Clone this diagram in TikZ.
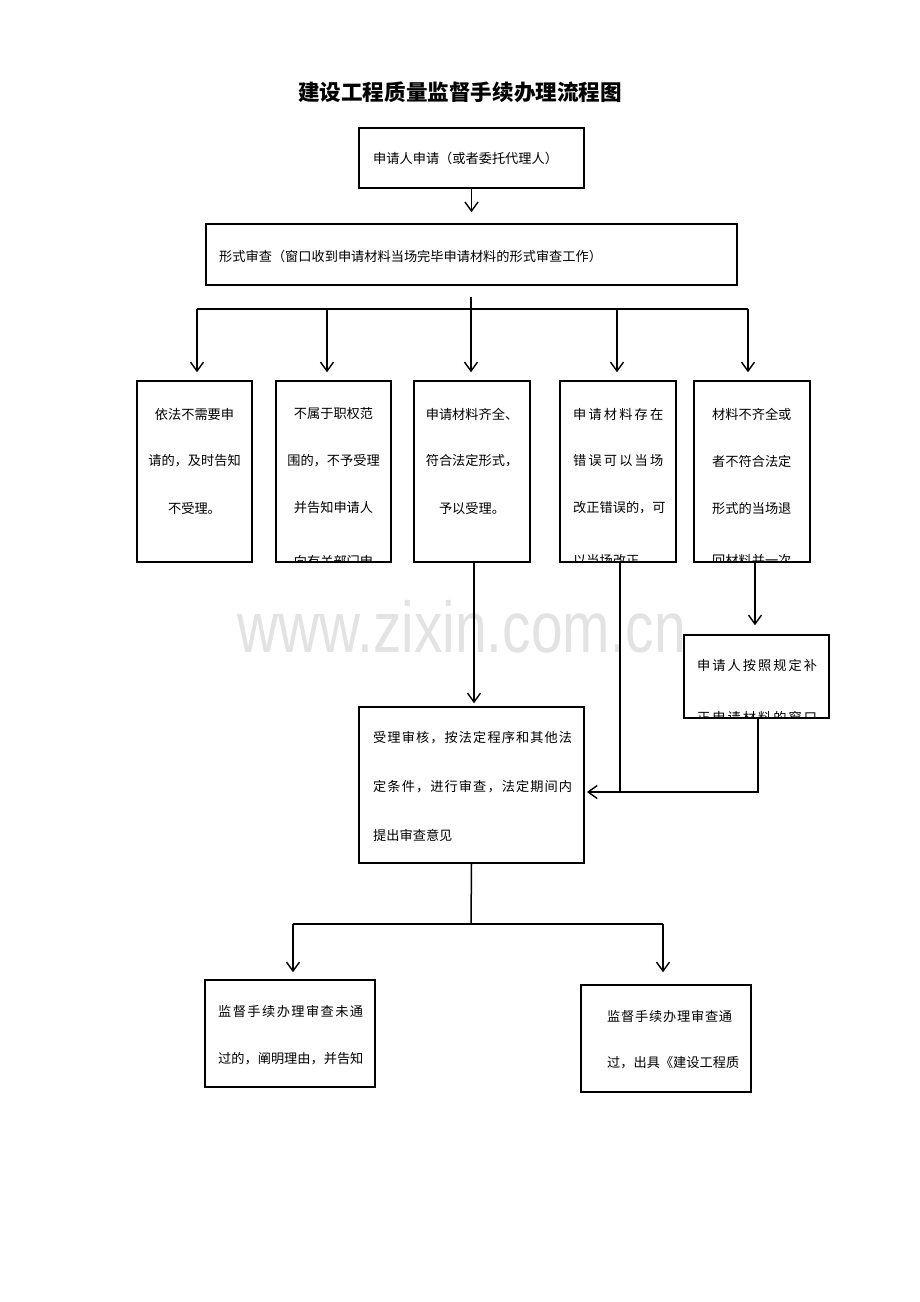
\documentclass[tikz,border=0pt]{standalone}
\usepackage{graphicx}
\usepackage{fontspec}
\setmainfont{Noto Sans CJK SC}
\newfontfamily\wmfont{Liberation Sans}
\usetikzlibrary{arrows.meta}
\makeatletter
\newcommand\spreadto[2]{\hbox to #1{\@tfor\sp@c:=#2\do{\sp@c\hfil}\unskip}}
\makeatother
\newcommand\mkbox[5]{\node[box,minimum width={#4-#2},minimum height={#5-#3}] (#1) at ({(#2+#4)/2},{(#3+#5)/2}) {};}
\newcommand\clipin[1]{\clip ([shift={(1,-1)}]#1.south west) rectangle ([shift={(-1,1)}]#1.north east);}
\begin{document}
\begin{tikzpicture}[x=1pt,y=-1pt,
  box/.style={draw,line width=1.5pt,inner sep=0pt},
  conn/.style={line width=1.5pt},
  arr/.style={conn,-{Straight Barb[length=9pt,width=13pt,line width=1.4pt]}},
  txt/.style={inner sep=0pt,font=\fontsize{13.2pt}{16pt}\selectfont},
]
\useasboundingbox (0,0) rectangle (920,1302);
\fill[white] (0,0) rectangle (920,1302);

% watermark
\node[anchor=base west,inner sep=0pt,text=black!11] (wm) at (237,652)
  {\scalebox{0.79}[1]{\wmfont\fontsize{72pt}{72pt}\selectfont www.zixin.com.cn}};

% title
\node[inner sep=0pt,font=\fontsize{21.6pt}{24pt}\selectfont\bfseries] (title) at (460,92) {建设工程质量监督手续办理流程图};

% boxes
\mkbox{b1}{359}{128}{584}{188}
\mkbox{b2}{206}{224}{737}{285}
\mkbox{ba}{137}{381}{252}{562}
\mkbox{bb}{276}{381}{391}{562}
\mkbox{bc}{414}{381}{530}{562}
\mkbox{bd}{560}{381}{676}{562}
\mkbox{be}{694}{381}{810}{562}
\mkbox{bg}{684}{635}{829}{718}
\mkbox{bf}{359}{707}{584}{863}
\mkbox{bh}{205}{980}{375}{1087}
\mkbox{bi}{581}{985}{751}{1092}

% texts
\node[txt,anchor=west] (t1) at (373,158) {申请人申请（或者委托代理人）};
\node[txt,anchor=west] (t2) at (219,256) {形式审查（窗口收到申请材料当场完毕申请材料的形式审查工作）};

\node[txt] (ta1) at (194.5,414) {依法不需要申};
\node[txt] (ta2) at (194.5,461) {请的，及时告知};
\node[txt] (ta3) at (194.5,508) {不受理。};

\begin{scope}\clipin{bb}
\node[txt] (tb1) at (333.5,414) {不属于职权范};
\node[txt] (tb2) at (333.5,461) {围的，不予受理};
\node[txt] (tb3) at (333.5,508) {并告知申请人};
\node[txt] (tb4) at (333.5,561) {向有关部门申};
\end{scope}

\node[txt] (tc1) at (472,414) {申请材料齐全、};
\node[txt] (tc2) at (472,461) {符合法定形式，};
\node[txt] (tc3) at (472,508) {予以受理。};

\begin{scope}\clipin{bd}
\node[txt,anchor=west] (td1) at (573,414) {\spreadto{90pt}{申请材料存在}};
\node[txt,anchor=west] (td2) at (573,461) {\spreadto{90pt}{错误可以当场}};
\node[txt,anchor=west] (td3) at (573,508) {\spreadto{90pt}{改正错误的，可}};
\node[txt,anchor=west] (td4) at (573,561) {以当场改正};
\end{scope}

\begin{scope}\clipin{be}
\node[txt,anchor=west] (te1) at (712,414) {材料不齐全或};
\node[txt,anchor=west] (te2) at (712,461) {者不符合法定};
\node[txt,anchor=west] (te3) at (712,508) {形式的当场退};
\node[txt,anchor=west] (te4) at (712,561) {回材料并一次};
\end{scope}

\begin{scope}\clipin{bg}
\node[txt,anchor=west] (tg1) at (697,665) {\spreadto{120pt}{申请人按照规定补}};
\node[txt,anchor=west] (tg2) at (697,717) {\spreadto{120pt}{正申请材料的窗口}};
\end{scope}

\node[txt,anchor=west] (tf1) at (373,738) {\spreadto{199pt}{受理审核，按法定程序和其他法}};
\node[txt,anchor=west] (tf2) at (373,787) {\spreadto{199pt}{定条件，进行审查，法定期间内}};
\node[txt,anchor=west] (tf3) at (373,835) {提出审查意见};

\node[txt,anchor=west] (th1) at (218,1011) {\spreadto{145pt}{监督手续办理审查未通}};
\node[txt,anchor=west] (th2) at (218,1059) {过的，阐明理由，并告知};

\node[txt,anchor=west] (ti1) at (607,1016) {\spreadto{125pt}{监督手续办理审查通}};
\node[txt,anchor=west] (ti2) at (607,1063) {过，出具《建设工程质};

% connectors
\draw[arr,shorten >=11pt] (b1) -- (b2);

\coordinate (split) at (471,297);
\coordinate (busL) at (197,309);
\coordinate (bus2) at (327,309);
\coordinate (bus4) at (617,309);
\coordinate (busR) at (748,309);
\draw[conn] (busL) -- (busR);
\draw[arr,shorten >=8pt] (split) -- (split |- bc.north);
\draw[arr,shorten >=8pt] (busL) -- (busL |- ba.north);
\draw[arr,shorten >=8pt] (bus2) -- (bus2 |- bb.north);
\draw[arr,shorten >=8pt] (bus4) -- (bus4 |- bd.north);
\draw[arr,shorten >=8pt] (busR) -- (busR |- be.north);

\draw[arr,shorten >=3pt] ([xshift=2pt]bc.south) -- ([xshift=2pt]bc.south |- bf.north);
\draw[arr,shorten >=9pt] ([xshift=3pt]be.south) -- ([xshift=3pt]be.south |- bg.north);

\coordinate (fin) at (587,792);
\draw[conn] ([xshift=2pt]bd.south) -- ([xshift=2pt]bd.south |- fin);
\draw[arr] ([xshift=1.5pt]bg.south) |- (fin);

\coordinate (fork) at (471,924);
\coordinate (forkL) at (293,924);
\coordinate (forkR) at (663,924);
\draw[conn] (bf.south) -- (fork);
\draw[conn] (forkL) -- (forkR);
\draw[arr,shorten >=7pt] (forkL) -- (forkL |- bh.north);
\draw[arr,shorten >=12pt] (forkR) -- (forkR |- bi.north);
\end{tikzpicture}
\end{document}
